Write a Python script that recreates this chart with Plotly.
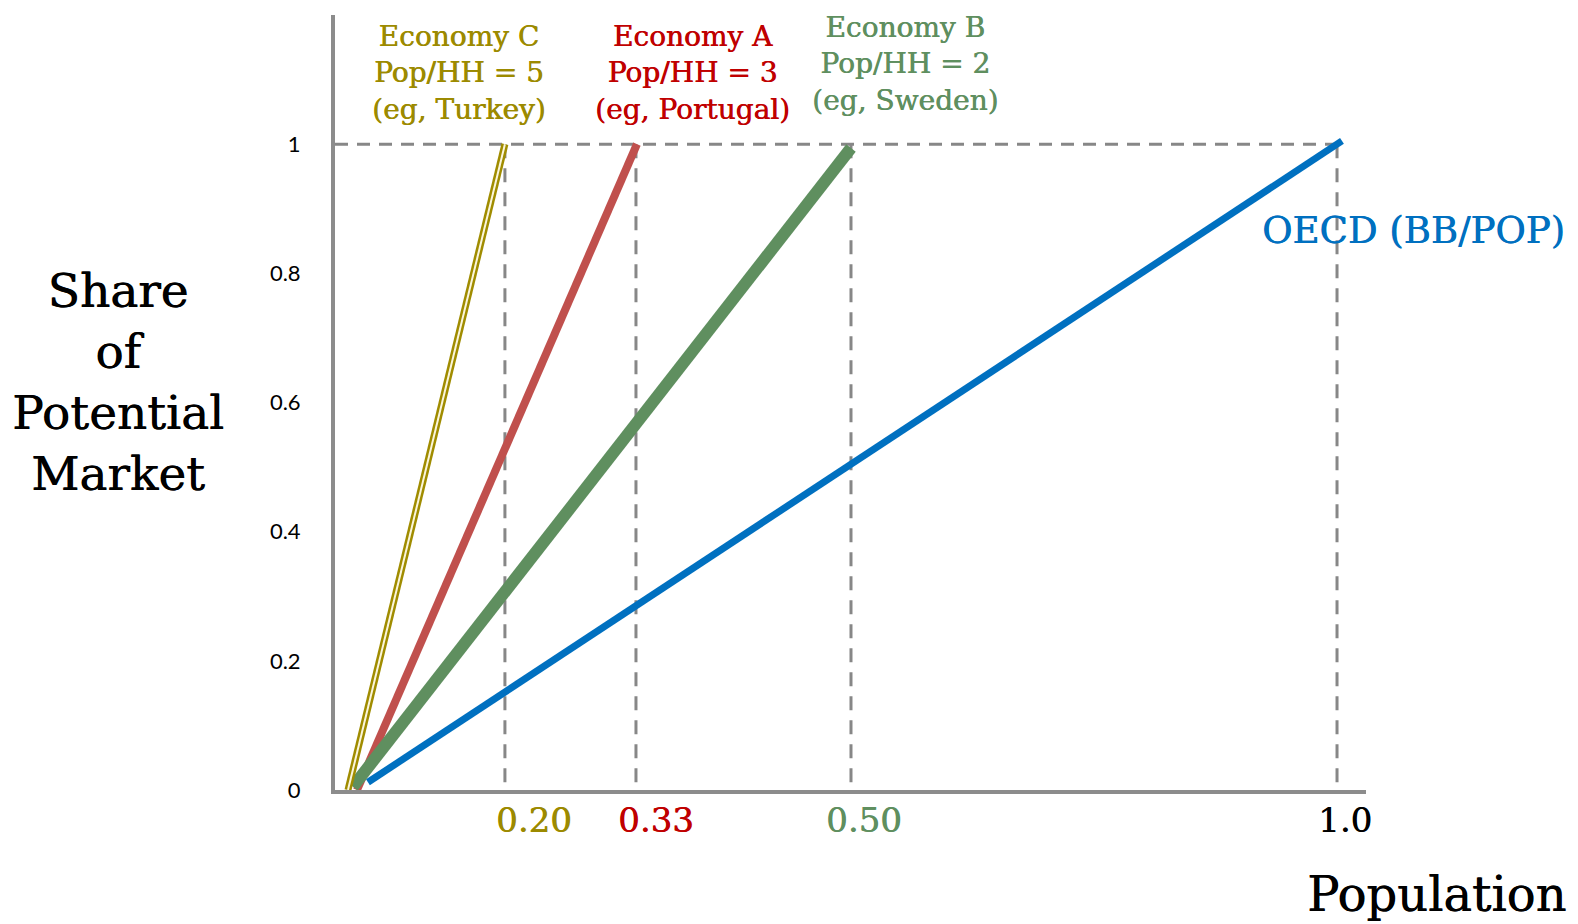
import plotly.graph_objects as go

# Schematic population axis: guide positions and the labels written under them
guide_pos = [0.1587, 0.2912, 0.5086, 1.0]
guide_labels = ["0.20", "0.33", "0.50", "1.0"]
guide_label_pos = [0.188, 0.3114, 0.5217, 1.008]
guide_colors = ["#9c8a00", "#c00000", "#5f8f5f", "#000000"]

# Share-of-market lines (start and end points)
econ_c_x = [0.0, 0.1587]
econ_c_y = [0.0, 1.0]
econ_a_x = [0.0091, 0.2922]
econ_a_y = [0.0, 1.0]
econ_b_x = [0.005, 0.5086]
econ_b_y = [0.005, 0.994]
oecd_x = [0.0202, 1.005]
oecd_y = [0.012, 1.005]

full_share = 1.0
x_range = [-0.0131, 1.0293]
y_range = [0.0, 1.2]

econ_names = ["Economy C", "Economy A", "Economy B"]
econ_pop_hh = ["Pop/HH = 5", "Pop/HH = 3", "Pop/HH = 2"]
econ_examples = ["(eg, Turkey)", "(eg, Portugal)", "(eg, Sweden)"]
econ_label_x = [0.1122, 0.3488, 0.5632]
econ_label_y = [1.11, 1.11, 1.124]
econ_text_colors = ["#9c8a00", "#c00000", "#5f8f5f"]

SERIF = "DejaVu Serif"
GRID = "#878787"


def serif(size, color):
    # a hairline shadow gives the serif text a slightly heavier stroke
    return dict(family=SERIF, size=size, color=color,
                shadow=f"0.6px 0 0 {color}")


fig = go.Figure()

# Dashed reference lines: horizontal at full share, verticals at each guide
fig.add_trace(go.Scatter(
    x=[x_range[0], guide_pos[-1]], y=[full_share, full_share],
    mode="lines", line=dict(color=GRID, width=3, dash="13px,9px"),
    hoverinfo="skip", showlegend=False))
for gx in guide_pos:
    fig.add_trace(go.Scatter(
        x=[gx, gx], y=[full_share, 0], mode="lines",
        line=dict(color=GRID, width=3, dash="14px,10px"),
        hoverinfo="skip", showlegend=False))

# Market lines
fig.add_trace(go.Scatter(x=oecd_x, y=oecd_y, mode="lines",
                         line=dict(color="#0070c0", width=7), showlegend=False))
fig.add_trace(go.Scatter(x=econ_a_x, y=econ_a_y, mode="lines",
                         line=dict(color="#c0504d", width=8), showlegend=False))
fig.add_trace(go.Scatter(x=econ_b_x, y=econ_b_y, mode="lines",
                         line=dict(color="#5f8f5f", width=12), showlegend=False))
fig.add_trace(go.Scatter(x=econ_c_x, y=econ_c_y, mode="lines",
                         line=dict(color="#a08c00", width=7), showlegend=False))
fig.add_trace(go.Scatter(x=econ_c_x, y=econ_c_y, mode="lines",
                         line=dict(color="#fbf6dc", width=2), showlegend=False))

annotations = []
# Labels beneath the population axis
for lx, txt, col in zip(guide_label_pos, guide_labels, guide_colors):
    annotations.append(dict(x=lx, y=-0.0387, xref="x", yref="paper",
                            text=txt, showarrow=False, font=serif(34, col),
                            xanchor="center", yanchor="middle"))
# Economy descriptions
for name, ph, ex, lx, ly, col in zip(econ_names, econ_pop_hh, econ_examples,
                                      econ_label_x, econ_label_y, econ_text_colors):
    annotations.append(dict(x=lx, y=ly, xref="x", yref="y",
                            text=f"{name}<br>{ph}<br>{ex}", showarrow=False,
                            font=serif(28, col),
                            xanchor="center", yanchor="middle"))
annotations.append(dict(x=1.0456, y=0.7213, xref="paper", yref="paper",
                        text="OECD (BB/POP)", showarrow=False,
                        font=serif(37, "#0070c0"),
                        xanchor="center", yanchor="middle"))
# Axis titles
annotations.append(dict(x=-0.2105, y=0.527, xref="paper", yref="paper",
                        text="Share<br>of<br>Potential<br>Market", showarrow=False,
                        font=serif(47, "#000000"),
                        xanchor="center", yanchor="middle"))
annotations.append(dict(x=1.068, y=-0.134, xref="paper", yref="paper",
                        text="Population", showarrow=False,
                        font=serif(48, "#000000"),
                        xanchor="center", yanchor="middle"))

fig.update_layout(
    width=1578, height=924,
    margin=dict(l=335, r=212, t=15, b=134),
    paper_bgcolor="white", plot_bgcolor="white",
    annotations=annotations,
    xaxis=dict(range=x_range, showgrid=False, zeroline=False,
               showline=True, linecolor="#8c8c8c", linewidth=4,
               showticklabels=False, ticks=""),
    yaxis=dict(range=y_range, showgrid=False, zeroline=False,
               showline=True, linecolor="#8c8c8c", linewidth=4,
               tickvals=[0, 0.2, 0.4, 0.6, 0.8, 1.0],
               ticktext=["0", "0.2", "0.4", "0.6", "0.8", "1"],
               ticks="", ticklabelstandoff=26,
               tickfont=dict(family="Lato", size=22, color="#000000")),
)

fig.write_html("out.html")
